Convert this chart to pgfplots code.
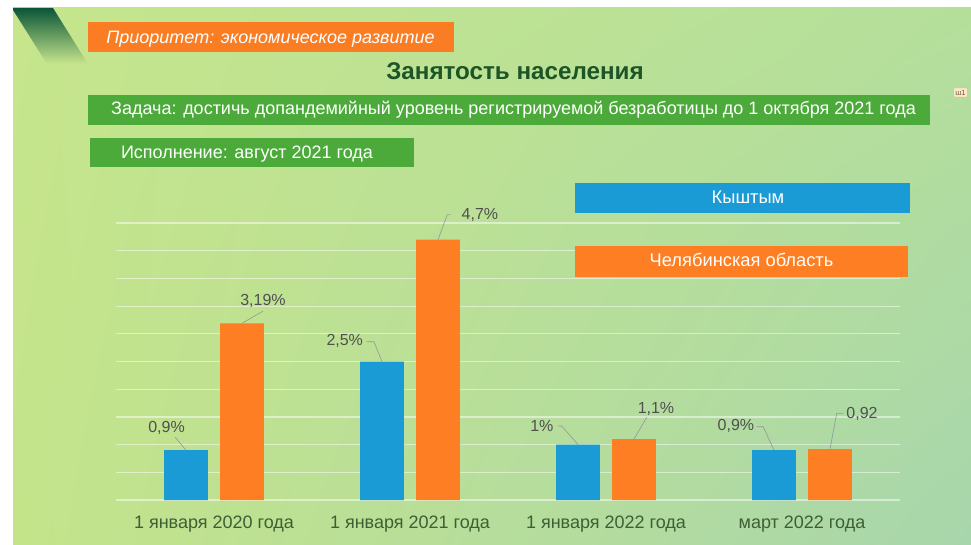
\documentclass[border=0pt]{standalone}
\usepackage{pgfplots}
\pgfplotsset{compat=1.18}
\usetikzlibrary{shadings}
\usepackage{fontspec}
\setmainfont{Liberation Sans}
\definecolor{bgUL}{RGB}{198,229,140}
\definecolor{bgLL}{RGB}{196,228,138}
\definecolor{bgUR}{RGB}{180,223,155}
\definecolor{bgLR}{RGB}{168,214,172}
\definecolor{darkG}{RGB}{10,85,55}
\definecolor{orangeBox}{RGB}{250,125,35}
\definecolor{greenBox}{RGB}{76,170,58}
\definecolor{blueBar}{RGB}{27,155,214}
\definecolor{orangeBar}{RGB}{253,126,35}
\definecolor{titleC}{RGB}{30,85,38}
\definecolor{tickC}{RGB}{62,95,52}
\definecolor{lblC}{RGB}{80,80,80}
\begin{document}
\begin{tikzpicture}[x=1pt,y=-1pt]
\fill[white] (0,0) rectangle (971,545);
\shade[upper left=bgUL, upper right=bgUR, lower left=bgLL, lower right=bgLR] (13,8) rectangle (971,545);
\shade[top color=darkG, middle color=darkG!65!bgUL, bottom color=bgUL] (13,8) -- (53,8) -- (88,64) -- (47,64) -- (13,10) -- cycle;
% header boxes
\fill[orangeBox] (88,22) rectangle (454,52);
\node[anchor=base, text=white, font=\fontsize{18}{21}\selectfont\itshape, inner sep=0] at (270.5,43.3) {Приоритет: экономическое развитие};
\node[anchor=base, text=titleC, font=\fontsize{24.2}{28}\selectfont\bfseries, inner sep=0] at (515,80) {Занятость населения};
\fill[greenBox] (88,95) rectangle (930,125);
\node[anchor=base, text=white, font=\fontsize{18}{21}\selectfont, inner sep=0] at (513.5,115) {Задача: достичь допандемийный уровень регистрируемой безработицы до 1 октября 2021 года};
\fill[greenBox] (90,138) rectangle (414,167);
\node[anchor=base, text=white, font=\fontsize{18}{21}\selectfont, inner sep=0] at (247,158.3) {Исполнение: август 2021 года};
% comment icon
\node[fill={rgb,255:red,250;green,232;blue,205}, draw={rgb,255:red,225;green,185;blue,140}, line width=0.5pt, inner sep=2pt, rounded corners=1pt, font=\fontsize{7.5}{8}\selectfont, text={rgb,255:red,120;green,90;blue,60}] at (960.5,92.5) {ш1};
\begin{axis}[
  at={(116pt,-500pt)}, anchor=south west,
  scale only axis, width=784pt, height=277pt,
  xmin=-0.5, xmax=3.5, ymin=0, ymax=5,
  axis line style={draw=none},
  major tick length=0pt,
  ytick={0,0.5,...,5}, yticklabels={},
  ymajorgrids, grid style={white, opacity=0.5, line width=1.2pt},
  xtick={0,1,2,3},
  xticklabels={1 января 2020 года, 1 января 2021 года, 1 января 2022 года, март 2022 года},
  x tick label style={font=\fontsize{18}{21}\selectfont, text=tickC, anchor=base, yshift=-28.3pt, inner sep=0pt},
  clip=false,
]
\addplot[ybar, fill=blueBar, draw=none, bar width=0.224, bar shift=-0.143] coordinates {(0,0.9) (1,2.5) (2,1) (3,0.9)};
\addplot[ybar, fill=orangeBar, draw=none, bar width=0.224, bar shift=0.143] coordinates {(0,3.19) (1,4.7) (2,1.1) (3,0.92)};
% data labels
\tikzset{lbl/.style={text=lblC, font=\fontsize{16}{19}\selectfont, inner sep=0pt}, ldr/.style={draw={rgb,255:red,150;green,150;blue,150}, line width=0.6pt}}
\node[lbl] at (axis cs:-0.242,1.309) {0,9\%};
\draw[ldr] (axis cs:-0.199,1.137) -- (axis cs:-0.143,0.9);
\node[lbl] at (axis cs:0.25,3.592) {3,19\%};
\draw[ldr] (axis cs:0.25,3.41) -- (axis cs:0.143,3.19);
\node[lbl] at (axis cs:0.667,2.87) {2,5\%};
\draw[ldr] (axis cs:0.779,2.857) -- (axis cs:0.816,2.857) -- (axis cs:0.857,2.5);
\node[lbl] at (axis cs:1.357,5.144) {4,7\%};
\draw[ldr] (axis cs:1.205,5.15) -- (axis cs:1.19,5.15) -- (axis cs:1.143,4.7);
\node[lbl] at (axis cs:1.673,1.336) {1\%};
\draw[ldr] (axis cs:1.757,1.336) -- (axis cs:1.774,1.336) -- (axis cs:1.857,1.0);
\node[lbl] at (axis cs:2.255,1.643) {1,1\%};
\draw[ldr] (axis cs:2.208,1.493) -- (axis cs:2.143,1.1);
\node[lbl] at (axis cs:2.663,1.336) {0,9\%};
\draw[ldr] (axis cs:2.769,1.323) -- (axis cs:2.802,1.323) -- (axis cs:2.857,0.9);
\node[lbl] at (axis cs:3.306,1.552) {0,92};
\draw[ldr] (axis cs:3.211,1.565) -- (axis cs:3.177,1.565) -- (axis cs:3.143,0.92);
\end{axis}
% legend boxes (drawn over the grid)
\fill[blueBar] (575,183.5) rectangle (910,213.5);
\node[anchor=base, text=white, font=\fontsize{18.3}{21}\selectfont, inner sep=0] at (748,204) {Кыштым};
\fill[orangeBar] (575,246) rectangle (908,277);
\node[anchor=base, text=white, font=\fontsize{18.3}{21}\selectfont, inner sep=0] at (741.5,266.7) {Челябинская область};
\end{tikzpicture}
\end{document}
